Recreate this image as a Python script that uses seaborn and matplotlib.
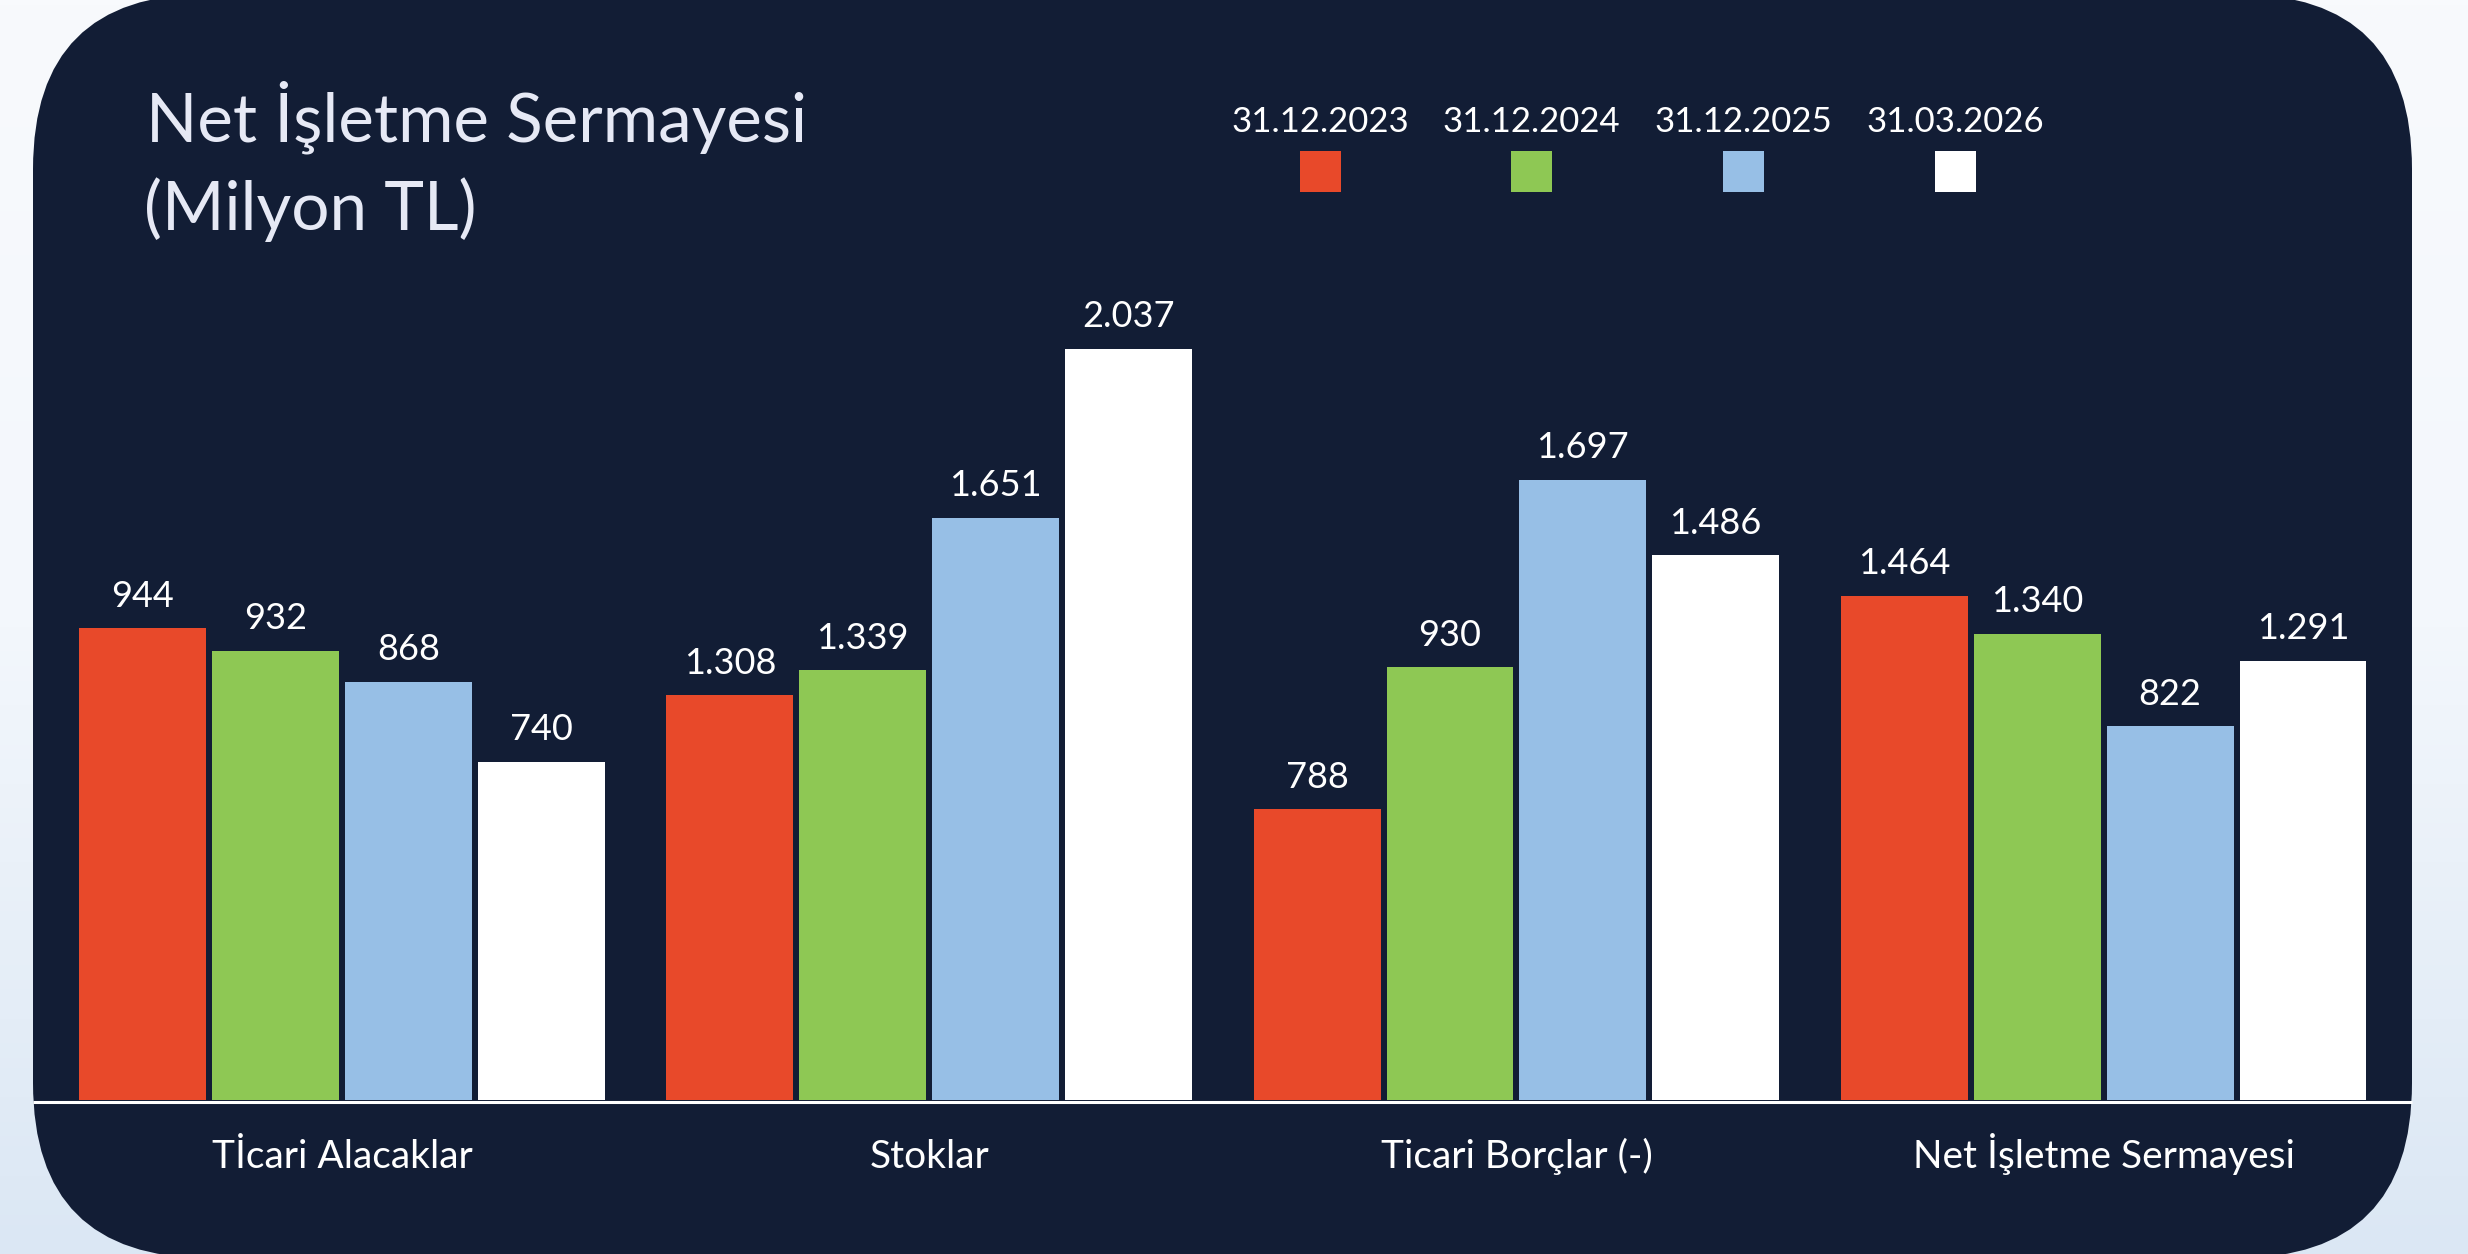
import numpy as np
import pandas as pd
import matplotlib.pyplot as plt
import seaborn as sns
from matplotlib.patches import FancyBboxPatch, Rectangle

# --- data ---------------------------------------------------------------
categories = ['Tİcari Alacaklar', 'Stoklar', 'Ticari Borçlar (-)', 'Net İşletme Sermayesi']
periods = ['31.12.2023', '31.12.2024', '31.12.2025', '31.03.2026']

# values printed on the bars (Milyon TL)
val_2023 = [944, 1308, 788, 1464]
val_2024 = [932, 1339, 930, 1340]
val_2025 = [868, 1651, 1697, 822]
val_2026 = [740, 2037, 1486, 1291]

# bar lengths as drawn in the source chart (it is not to scale with the labels)
len_2023 = [1280, 1098, 789, 1367]
len_2024 = [1218, 1166, 1174, 1264]
len_2025 = [1134, 1579, 1682, 1014]
len_2026 = [917, 2037, 1478, 1191]

colors = ['#e8492a', '#8ec854', '#97bfe6', '#ffffff']

values = [val_2023, val_2024, val_2025, val_2026]
lengths = [len_2023, len_2024, len_2025, len_2026]

df = pd.DataFrame({
    'category': categories * len(periods),
    'period': np.repeat(periods, len(categories)),
    'length': np.concatenate(lengths),
    'value': np.concatenate(values),
})

# --- style --------------------------------------------------------------
sns.set_style('white')
plt.rcParams['font.family'] = ['Lato', 'DejaVu Sans']

PANEL = '#121d35'
W, H = 2468, 1254

fig = plt.figure(figsize=(W / 100, H / 100), dpi=100)

# background: light gradient + rounded navy panel (pixel coordinates)
bg = fig.add_axes([0, 0, 1, 1])
bg.set_xlim(0, W)
bg.set_ylim(H, 0)
bg.axis('off')
grad = np.linspace(0, 1, 256).reshape(-1, 1)
bg_cmap = sns.blend_palette(['#f8fafd', '#f3f7fc', '#dbe7f4'], as_cmap=True)
bg.imshow(grad, cmap=bg_cmap, extent=(0, W, H, 0), aspect='auto', zorder=0)
bg.add_patch(FancyBboxPatch((33, -6), 2379, 1264,
                            boxstyle='round,pad=0,rounding_size=175',
                            facecolor=PANEL, edgecolor='none', zorder=1))
bg.plot([33, 2412], [1101.5, 1101.5], color='white', lw=2.2,
        solid_capstyle='butt', zorder=2)

# title
bg.text(146, 142, 'Net İşletme Sermayesi', fontsize=48.5, color='#e6e9f5',
        ha='left', va='baseline', zorder=3)
bg.text(144, 230, '(Milyon TL)', fontsize=48.5, color='#e6e9f5',
        ha='left', va='baseline', zorder=3)

# legend: label above a colour square
for i, (p, c) in enumerate(zip(periods, colors)):
    cx = 1320 + i * 211.7
    bg.text(cx, 132, p, fontsize=25, color='white', ha='center',
            va='baseline', zorder=3)
    bg.add_patch(Rectangle((cx - 20.5, 151), 41, 41, facecolor=c,
                           edgecolor='none', zorder=3))

# --- bars ---------------------------------------------------------------
ax = fig.add_axes([33 / W, (H - 1100) / H, 2379 / W, 900 / H])
ax.patch.set_alpha(0)
sns.barplot(data=df, x='category', y='length', hue='period',
            palette=colors, saturation=1, width=0.905, gap=0.045,
            linewidth=0, edgecolor='none',
            errorbar=None, legend=False, ax=ax)

ax.set_xlim(-0.526, 3.525)
ax.set_ylim(0, 2441)
sns.despine(ax=ax, left=True, bottom=True)
ax.set_yticks([])
ax.set_xlabel('')
ax.set_ylabel('')
ax.tick_params(axis='x', length=0, pad=49, labelsize=28, labelcolor='white')
for lab in ax.get_xticklabels():
    lab.set_va('baseline')

for cont, vals in zip(ax.containers, values):
    for bar, v in zip(cont, vals):
        ax.annotate(f'{v:,}'.replace(',', '.'),
                    xy=(bar.get_x() + bar.get_width() / 2, bar.get_height()),
                    xytext=(0, 15.5), textcoords='offset points',
                    ha='center', va='baseline', fontsize=26, color='white')

fig.savefig('out.png', dpi=100)
